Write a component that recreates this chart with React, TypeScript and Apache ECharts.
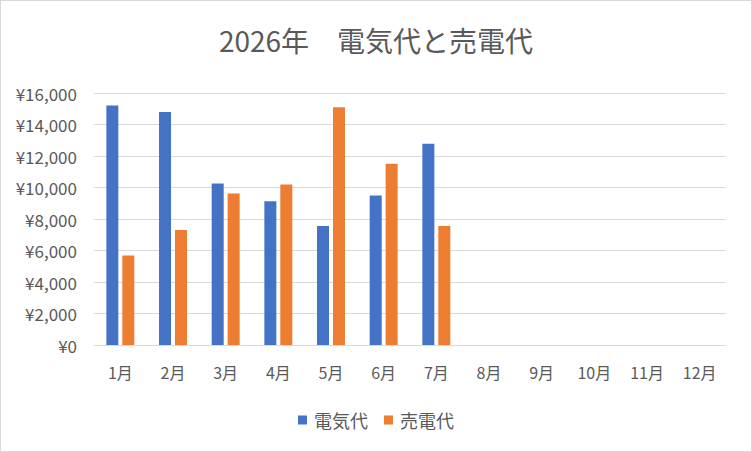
import React, { useEffect, useRef } from "react";
import * as echarts from "echarts";

const categories = ["1月", "2月", "3月", "4月", "5月", "6月", "7月", "8月", "9月", "10月", "11月", "12月"];
const denkiDai = [15200, 14800, 10250, 9120, 7550, 9500, 12770, null, null, null, null, null];
const baiDenDai = [5680, 7300, 9620, 10190, 15100, 11510, 7550, null, null, null, null, null];
const seriesNames = ["電気代", "売電代"];
const titleText = "2026年　電気代と売電代";

const FONT = "'Noto Sans CJK JP', 'Noto Sans', sans-serif";

export default function App() {
  const ref = useRef<HTMLDivElement>(null);
  useEffect(() => {
    if (!ref.current) return;
    const chart = echarts.init(ref.current, undefined, { renderer: "svg" });
    chart.setOption({
      animation: false,
      backgroundColor: "#ffffff",
      textStyle: { fontFamily: FONT },
      title: {
        text: titleText,
        left: "center",
        top: 20,
        textStyle: { fontSize: 28, fontWeight: "normal", color: "#595959", fontFamily: FONT },
      },
      legend: {
        data: seriesNames,
        top: 405,
        left: "center",
        itemWidth: 9,
        itemHeight: 9,
        icon: "rect",
        itemGap: 16,
        textStyle: { fontSize: 18, color: "#595959", fontFamily: FONT, padding: [0, 0, 0, 2] },
      },
      grid: { left: 93, right: 25, top: 92, bottom: 106, containLabel: false },
      xAxis: {
        type: "category",
        data: categories,
        axisLine: { lineStyle: { color: "#d9d9d9" } },
        axisTick: { show: false },
        axisLabel: { color: "#595959", fontSize: 16, margin: 19, fontFamily: FONT },
      },
      yAxis: {
        type: "value",
        min: 0,
        max: 16000,
        interval: 2000,
        axisLine: { show: false },
        axisTick: { show: false },
        splitLine: { lineStyle: { color: "#d9d9d9", width: 1 } },
        axisLabel: {
          color: "#595959",
          fontSize: 17,
          margin: 17,
          fontFamily: FONT,
          formatter: (v: number) => "¥" + v.toLocaleString("en-US"),
        },
      },
      series: [
        {
          name: seriesNames[0],
          type: "bar",
          data: denkiDai,
          barWidth: 12,
          barGap: "33%",
          itemStyle: { color: "#4472c4" },
        },
        {
          name: seriesNames[1],
          type: "bar",
          data: baiDenDai,
          barWidth: 12,
          barGap: "33%",
          itemStyle: { color: "#ed7d31" },
        },
      ],
    });
    return () => chart.dispose();
  }, []);
  return (
    <div
      style={{
        position: "fixed",
        left: 0,
        top: 0,
        width: 752,
        height: 452,
        boxSizing: "border-box",
        border: "1px solid #d9d9d9",
        background: "#fff",
      }}
    >
      <div ref={ref} style={{ width: 750, height: 450 }} />
    </div>
  );
}
